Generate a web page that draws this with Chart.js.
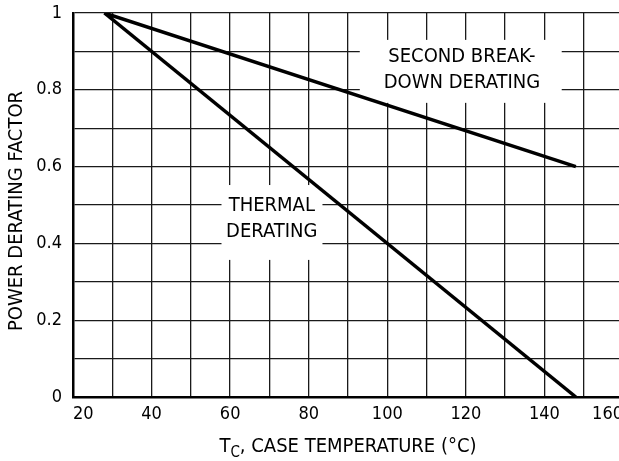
<!DOCTYPE html>
<html>
<head>
<meta charset="utf-8">
<script src="https://cdn.jsdelivr.net/npm/chart.js@4.4.1/dist/chart.umd.min.js"></script>
<style>
  html, body { margin: 0; padding: 0; background: #fff; overflow: hidden; }
  #wrap { width: 632px; height: 461px; }
</style>
</head>
<body>
<div id="wrap"><canvas id="derating" width="632" height="461"></canvas></div>
<script>
// ===== データ =====
const caseTemps = [28, 148];          // T_C (°C)
const secondBreakdown = [1.0, 0.6];   // SECOND BREAKDOWN DERATING
const thermalDerating = [1.0, 0.0];   // THERMAL DERATING

const xTickLabels = [20, 40, 60, 80, 100, 120, 140, 160];
const yTickLabels = ['0', '0.2', '0.4', '0.6', '0.8', '1'];

const FONT = '"Liberation Sans Narrow", "Arial Narrow", "DejaVu Sans Condensed", sans-serif';

// 注記ラベル（データ座標）
const notes = [
  { lines: ['SECOND BREAK-', 'DOWN DERATING'], x: 119, y: 0.852, box: [93, 144.4, 0.93, 0.766] },
  { lines: ['THERMAL', 'DERATING'], x: 70.6, y: 0.4635, box: [57.8, 83.5, 0.552, 0.357] },
];

// ===== 注記・軸タイトル描画プラグイン =====
const notesPlugin = {
  id: 'notes',
  beforeDatasetsDraw(chart) {
    const { ctx, scales: { x, y } } = chart;
    ctx.save();
    ctx.fillStyle = '#fff';
    notes.forEach(n => {
      const [x0, x1, y0, y1] = n.box;
      const l = x.getPixelForValue(x0), r = x.getPixelForValue(x1);
      const t = y.getPixelForValue(y0), b = y.getPixelForValue(y1);
      ctx.fillRect(l, t, r - l, b - t);
    });
    ctx.restore();
  },
  afterDatasetsDraw(chart) {
    const { ctx, scales: { x, y } } = chart;
    ctx.save();
    ctx.fillStyle = '#000';
    ctx.font = `20px ${FONT}`;
    ctx.textAlign = 'center';
    ctx.textBaseline = 'middle';
    notes.forEach(n => {
      const cx = x.getPixelForValue(n.x);
      const cy = y.getPixelForValue(n.y);
      n.lines.forEach((s, i) => {
        ctx.fillText(s, cx, cy + (i - (n.lines.length - 1) / 2) * 26);
      });
    });
    ctx.restore();
  },
  afterDraw(chart) {
    const { ctx, chartArea } = chart;
    ctx.save();
    ctx.fillStyle = '#000';
    ctx.textBaseline = 'alphabetic';

    // X軸タイトル（T_C 下付き）
    const big = `20px ${FONT}`, small = `15px ${FONT}`;
    const rest = ', CASE TEMPERATURE (°C)';
    ctx.font = big;
    const wT = ctx.measureText('T').width, wRest = ctx.measureText(rest).width;
    ctx.font = small;
    const wC = ctx.measureText('C').width;
    const total = wT + wC + wRest;
    let px = (chartArea.left + chartArea.right) / 2 - total / 2;
    const base = 452;
    ctx.textAlign = 'left';
    ctx.font = big;
    ctx.fillText('T', px, base);
    px += wT;
    ctx.font = small;
    ctx.fillText('C', px, base + 5);
    px += wC;
    ctx.font = big;
    ctx.fillText(rest, px, base);

    // Y軸タイトル
    ctx.translate(22, 211);
    ctx.rotate(-Math.PI / 2);
    ctx.textAlign = 'center';
    ctx.fillText('POWER DERATING FACTOR', 0, 0);
    ctx.restore();
  }
};

// ===== チャート =====
const toPoints = vals => caseTemps.map((t, i) => ({ x: t, y: vals[i] }));

new Chart(document.getElementById('derating'), {
  type: 'line',
  data: {
    datasets: [
      {
        label: 'SECOND BREAKDOWN DERATING',
        data: toPoints(secondBreakdown),
        borderColor: '#000',
        borderWidth: 3.5,
        pointRadius: 0,
        fill: false,
      },
      {
        label: 'THERMAL DERATING',
        data: toPoints(thermalDerating),
        borderColor: '#000',
        borderWidth: 3.5,
        pointRadius: 0,
        fill: false,
      }
    ]
  },
  options: {
    responsive: false,
    animation: false,
    devicePixelRatio: 1,
    layout: { padding: { left: 0, top: 13, right: 9, bottom: 0 } },
    plugins: { legend: { display: false }, tooltip: { enabled: false } },
    scales: {
      x: {
        type: 'linear',
        min: 20, max: 160,
        afterFit: s => { s.height = 64; s.paddingLeft = 0; s.paddingRight = 0; },
        grid: { color: '#1a1a1a', lineWidth: 1.3, drawTicks: false },
        border: { color: '#000', width: 2.5 },
        ticks: {
          stepSize: 10,
          padding: 7,
          align: 'inner',
          maxRotation: 0,
          autoSkip: false,
          color: '#000',
          font: { family: FONT, size: 18 },
          callback: v => xTickLabels.includes(v) ? String(v) : '',
        }
      },
      y: {
        min: 0, max: 1,
        afterFit: s => { s.width = 73; s.paddingTop = 0; s.paddingBottom = 0; },
        grid: { color: '#1a1a1a', lineWidth: 1.3, drawTicks: false },
        border: { color: '#000', width: 2.5 },
        ticks: {
          stepSize: 0.1,
          padding: 11,
          autoSkip: false,
          color: '#000',
          font: { family: FONT, size: 18 },
          callback: v => {
            const s = String(Math.round(v * 10) / 10);
            return yTickLabels.includes(s) ? s : '';
          }
        }
      }
    }
  },
  plugins: [notesPlugin]
});
</script>
</body>
</html>
